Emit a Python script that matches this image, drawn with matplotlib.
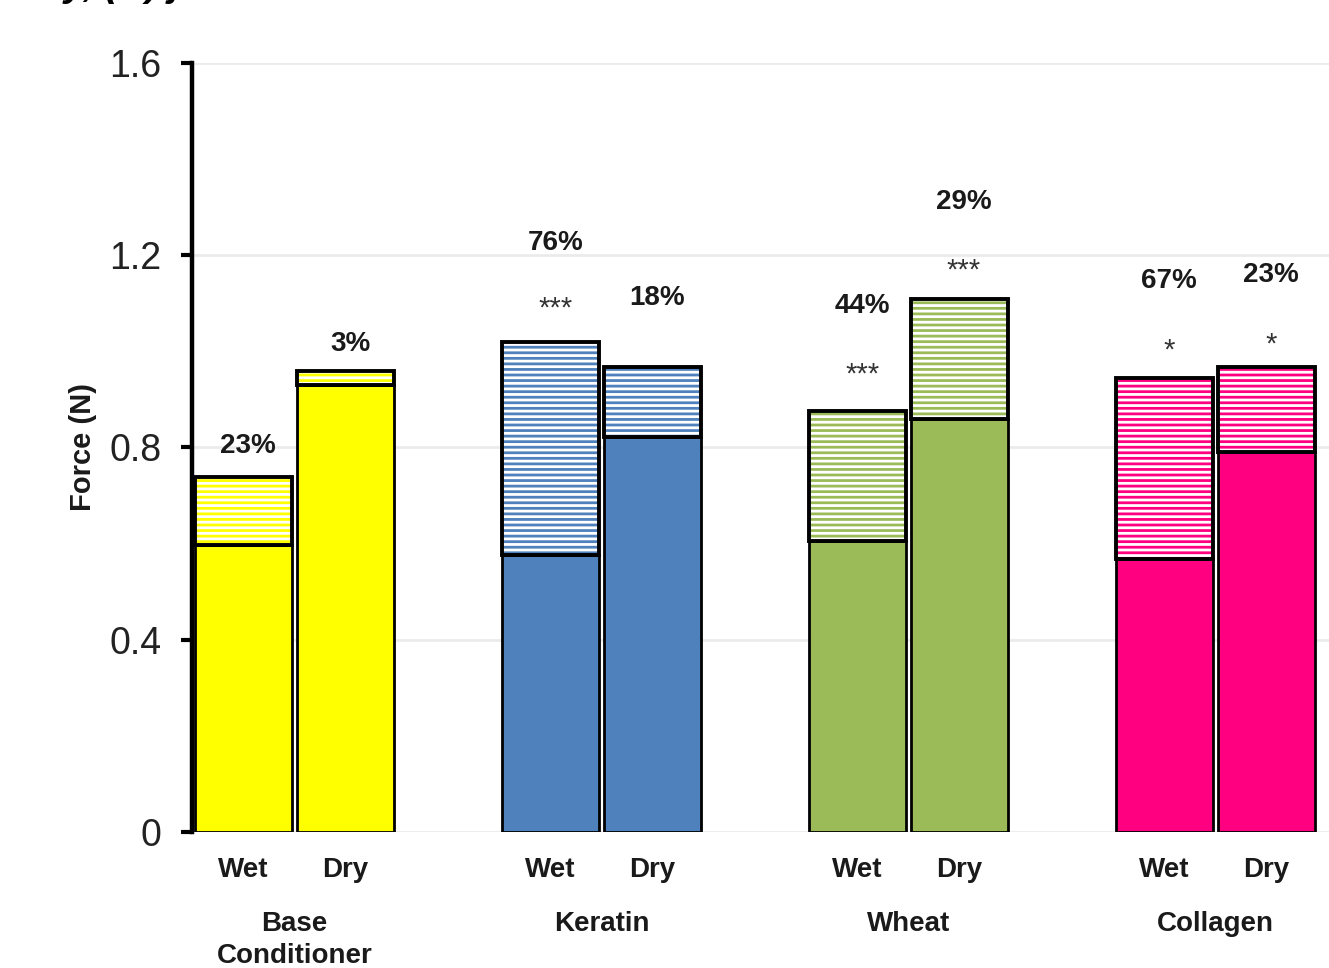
import numpy as np
import matplotlib.pyplot as plt

# values
groups = ['Base\nConditioner', 'Keratin', 'Wheat', 'Collagen']
conditions = ['Wet', 'Dry']
colors = ['#FFFF00', '#4F81BD', '#9BBB59', '#FF0080']

base_wet = [0.597, 0.576, 0.605, 0.568]
base_dry = [0.930, 0.822, 0.859, 0.791]
total_wet = [0.739, 1.020, 0.876, 0.945]
total_dry = [0.959, 0.968, 1.109, 0.968]

pct_wet = ['23%', '76%', '44%', '67%']
pct_dry = ['3%', '18%', '29%', '23%']
stars_wet = ['', '***', '***', '*']
stars_dry = ['', '', '***', '*']

# layout
width = 0.316
offset = 0.166
pct_gap_wet = [0.063, 0.205, 0.218, 0.202]
pct_gap_dry = [0.056, 0.143, 0.202, 0.191]
star_gap_wet = [0, 0.068, 0.076, 0.057]
star_gap_dry = [0, 0, 0.060, 0.046]

plt.rcParams['font.family'] = ['Liberation Sans', 'DejaVu Sans']
plt.rcParams['hatch.linewidth'] = 2.0

fig = plt.figure(figsize=(13.29, 9.68), dpi=100)
ax = fig.add_axes([0.1445, 0.1405, 0.8555, 0.7945])

x = np.arange(len(groups))
xw = x - offset
xd = x + offset

for xs, base, total, pcts, stars, gaps, sgaps in [
        (xw, base_wet, total_wet, pct_wet, stars_wet, pct_gap_wet, star_gap_wet),
        (xd, base_dry, total_dry, pct_dry, stars_dry, pct_gap_dry, star_gap_dry)]:
    top = np.array(total) - np.array(base)
    ax.bar(xs, base, width, color=colors, edgecolor='black', linewidth=2, zorder=3)
    # hatched part: white with coloured stripes, then black outline
    for i in range(len(xs)):
        ax.bar(xs[i], top[i], width, bottom=base[i], color='white',
               edgecolor=colors[i], hatch='---', linewidth=0, zorder=3)
    ax.bar(xs, top, width, bottom=base, fill=False, edgecolor='black',
           linewidth=2.8, zorder=4)
    for i in range(len(xs)):
        ax.text(xs[i] + 0.015, total[i] + gaps[i], pcts[i], ha='center', va='center',
                fontsize=20, fontweight='bold', color='#1a1a1a')
        if stars[i]:
            ax.text(xs[i] + 0.015, total[i] + sgaps[i], stars[i], ha='center',
                    va='center', fontsize=21, color='#333333')

ax.set_ylim(0, 1.6)
ax.set_xlim(-0.334, 3.37)
ax.set_yticks([0, 0.4, 0.8, 1.2, 1.6])
ax.set_yticklabels(['0', '0.4', '0.8', '1.2', '1.6'])
ax.yaxis.grid(True, color='#EBEBEB', linewidth=2)
ax.set_axisbelow(True)

for s in ['top', 'right', 'bottom']:
    ax.spines[s].set_visible(False)
ax.spines['left'].set_linewidth(3.2)

ax.tick_params(axis='y', length=8, width=3, pad=14, labelsize=27, labelcolor='#222222')
ax.set_xticks(list(xw) + list(xd))
ax.set_xticklabels(['Wet'] * 4 + ['Dry'] * 4)
ax.tick_params(axis='x', length=0, pad=18, labelsize=20, labelcolor='#1a1a1a')
for lab in ax.get_xticklabels():
    lab.set_fontweight('bold')

for i, g in enumerate(groups):
    ax.text(x[i], -0.103, g, transform=ax.get_xaxis_transform(), ha='center',
            va='top', fontsize=20, fontweight='bold', color='#1a1a1a', linespacing=1.3)

ax.set_ylabel('Force (N)', fontsize=21, fontweight='bold', color='#1a1a1a')
ax.yaxis.set_label_coords(-0.0835, 0.5)

# title is cropped at the top of the image
fig.text(0.048, 1.004, 'y, (N) j', fontsize=28, fontweight='bold', style='italic',
         va='baseline', ha='left')

plt.savefig('out.png', dpi=100)
